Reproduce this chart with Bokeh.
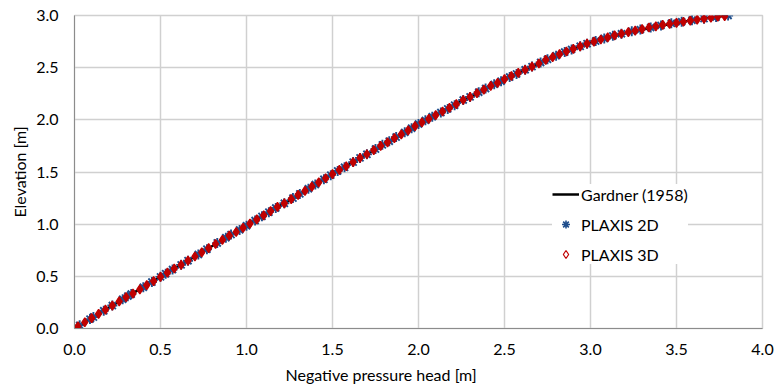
from bokeh.plotting import figure
from bokeh.models import FixedTicker, PrintfTickFormatter, Legend, LegendItem, Range1d, Title
from bokeh.embed import file_html
from bokeh.resources import INLINE

# Gardner (1958) analytical curve
gardner_h = [0.0, 0.25, 0.5, 0.75, 1.0, 1.25, 1.5, 1.75, 2.0, 2.25, 2.5, 2.75, 3.0, 3.25, 3.5, 3.65, 3.8]
gardner_z = [0.0, 0.25, 0.495, 0.74, 0.985, 1.23, 1.48, 1.72, 1.96, 2.18, 2.39, 2.58, 2.74, 2.85, 2.93, 2.97, 3.0]

# PLAXIS 2D results
p2d_h = [0.03, 0.09, 0.11, 0.17, 0.22, 0.28, 0.31, 0.33, 0.40, 0.45, 0.50, 0.53, 0.57, 0.62, 0.66,
         0.72, 0.77, 0.83, 0.88, 0.91, 0.96, 1.00, 1.05, 1.09, 1.13, 1.17, 1.22, 1.27, 1.31, 1.36,
         1.40, 1.45, 1.49, 1.53, 1.57, 1.62, 1.66, 1.70, 1.75, 1.79, 1.83, 1.87, 1.92, 1.96, 2.00,
         2.04, 2.08, 2.13, 2.17, 2.21, 2.26, 2.30, 2.35, 2.39, 2.44, 2.48, 2.53, 2.57, 2.62, 2.66,
         2.71, 2.75, 2.80, 2.85, 2.89, 2.94, 2.98, 3.03, 3.08, 3.13, 3.18, 3.24, 3.29, 3.35, 3.41,
         3.47, 3.53, 3.59, 3.66, 3.73, 3.80]
p2d_z = [0.03, 0.09, 0.11, 0.17, 0.22, 0.28, 0.31, 0.33, 0.395, 0.445, 0.495, 0.525, 0.565, 0.61, 0.65,
         0.71, 0.76, 0.82, 0.87, 0.90, 0.945, 0.985, 1.035, 1.075, 1.115, 1.155, 1.20, 1.25, 1.29, 1.34,
         1.38, 1.43, 1.47, 1.51, 1.545, 1.595, 1.635, 1.67, 1.72, 1.76, 1.795, 1.835, 1.88, 1.92, 1.96,
         1.995, 2.03, 2.07, 2.105, 2.14, 2.19, 2.22, 2.265, 2.30, 2.34, 2.37, 2.41, 2.44, 2.48, 2.51,
         2.55, 2.58, 2.615, 2.65, 2.675, 2.705, 2.73, 2.755, 2.78, 2.805, 2.825, 2.85, 2.865, 2.885, 2.905,
         2.925, 2.94, 2.955, 2.97, 2.985, 3.00]

# PLAXIS 3D results
p3d_h = [0.02, 0.06, 0.10, 0.14, 0.18, 0.22, 0.26, 0.30, 0.34, 0.38, 0.42, 0.46, 0.50, 0.54, 0.58,
         0.62, 0.66, 0.70, 0.74, 0.78, 0.82, 0.86, 0.90, 0.94, 0.98, 1.02, 1.06, 1.10, 1.14, 1.18,
         1.22, 1.26, 1.30, 1.34, 1.38, 1.42, 1.46, 1.50, 1.54, 1.58, 1.62, 1.66, 1.70, 1.74, 1.78,
         1.82, 1.86, 1.90, 1.94, 1.98, 2.02, 2.06, 2.10, 2.14, 2.18, 2.22, 2.26, 2.30, 2.34, 2.38,
         2.42, 2.46, 2.50, 2.54, 2.58, 2.62, 2.66, 2.70, 2.74, 2.78, 2.82, 2.86, 2.90, 2.94, 2.98,
         3.02, 3.06, 3.10, 3.14, 3.18, 3.22, 3.26, 3.30, 3.34, 3.38, 3.42, 3.46, 3.50, 3.54, 3.58,
         3.62, 3.66, 3.70, 3.74, 3.78]
p3d_z = [0.02, 0.06, 0.10, 0.14, 0.18, 0.22, 0.26, 0.30, 0.335, 0.375, 0.415, 0.455, 0.495, 0.535, 0.575,
         0.61, 0.65, 0.69, 0.73, 0.77, 0.81, 0.85, 0.89, 0.925, 0.965, 1.005, 1.045, 1.085, 1.125, 1.165,
         1.20, 1.24, 1.28, 1.32, 1.36, 1.40, 1.44, 1.48, 1.52, 1.555, 1.595, 1.635, 1.67, 1.71, 1.75,
         1.785, 1.825, 1.86, 1.90, 1.94, 1.975, 2.01, 2.045, 2.08, 2.115, 2.15, 2.19, 2.22, 2.255, 2.29,
         2.325, 2.355, 2.39, 2.42, 2.45, 2.48, 2.51, 2.54, 2.575, 2.60, 2.63, 2.655, 2.68, 2.705, 2.73,
         2.75, 2.77, 2.79, 2.81, 2.825, 2.84, 2.855, 2.87, 2.885, 2.895, 2.91, 2.92, 2.93, 2.94, 2.95,
         2.96, 2.97, 2.98, 2.99, 2.995]

x_ticks = [0.0, 0.5, 1.0, 1.5, 2.0, 2.5, 3.0, 3.5, 4.0]
y_ticks = [0.0, 0.5, 1.0, 1.5, 2.0, 2.5, 3.0]

FONT = "Lato"
FS = "16px"
GRID = "#d0d0d0"

p = figure(width=774, height=392, output_backend="svg", toolbar_location=None,
           x_range=Range1d(0, 4), y_range=Range1d(0, 3),
           min_border_left=74, min_border_right=12, min_border_top=15, min_border_bottom=64)

p.outline_line_color = GRID
p.outline_line_width = 1.5
p.background_fill_color = "white"
p.border_fill_color = "white"

for ax, ticks in ((p.xaxis, x_ticks), (p.yaxis, y_ticks)):
    ax.ticker = FixedTicker(ticks=ticks)
    ax.formatter = PrintfTickFormatter(format="%.1f")
    ax.major_tick_out = 0
    ax.major_tick_in = 0
    ax.minor_tick_out = 0
    ax.minor_tick_in = 0
    ax.axis_line_color = "#8c8c8c"
    ax.major_label_text_font = FONT
    ax.major_label_text_font_size = FS
    ax.major_label_text_color = "#000000"

p.xaxis.major_label_standoff = 15
p.yaxis.major_label_standoff = 16

# axis titles (offset from the plot-area centre as in the original)
x_title = Title(text="Negative pressure head [m]", align="left", offset=211, standoff=10,
                text_font=FONT, text_font_size=FS, text_font_style="normal", text_color="#000000")
y_title = Title(text="Elevation [m]", align="center", offset=8, standoff=10,
                text_font=FONT, text_font_size=FS, text_font_style="normal", text_color="#000000")
p.add_layout(x_title, "below")
p.add_layout(y_title, "left")

p.xgrid.ticker = FixedTicker(ticks=x_ticks)
p.ygrid.ticker = FixedTicker(ticks=y_ticks)
p.xgrid.grid_line_color = GRID
p.ygrid.grid_line_color = GRID
p.xgrid.grid_line_width = 1.5
p.ygrid.grid_line_width = 1.5

r_line = p.line(gardner_h, gardner_z, line_color="black", line_width=2.5)
r_2d = p.scatter(p2d_h, p2d_z, marker="asterisk", size=10, line_color="#1f4e8c", line_width=1.9)
r_3d = p.scatter(p3d_h, p3d_z, marker="diamond", size=9, line_color="#c00000", fill_color="#c00000",
                 line_width=1.3)

# legend swatches: smaller markers, open diamond
r_2d_leg = p.scatter([-10], [-10], marker="asterisk", size=7, line_color="#1f4e8c", line_width=1.6)
r_3d_leg = p.scatter([-10], [-10], marker="diamond", size=6, line_color="#c00000", fill_color="white",
                     line_width=1.2)

legend = Legend(items=[LegendItem(label="Gardner (1958)", renderers=[r_line]),
                       LegendItem(label="PLAXIS 2D", renderers=[r_2d_leg]),
                       LegendItem(label="PLAXIS 3D", renderers=[r_3d_leg])],
                location=(478, 64), padding=8, spacing=10, label_height=20, glyph_height=20,
                glyph_width=27, label_standoff=2, border_line_color=None,
                background_fill_color="white", background_fill_alpha=1.0,
                label_text_font=FONT, label_text_font_size=FS, label_text_color="#000000")
p.add_layout(legend, "center")

open("out.html", "w").write(file_html(p, INLINE))
